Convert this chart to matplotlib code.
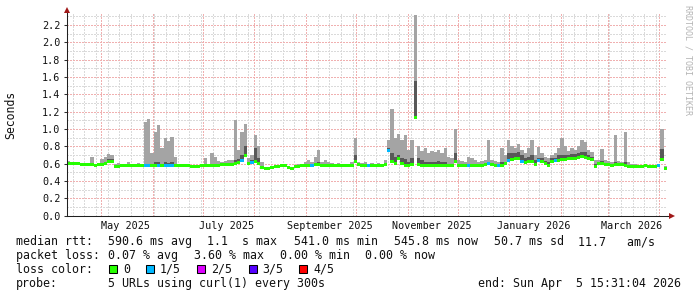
import numpy as np
import matplotlib
matplotlib.use("Agg")
import matplotlib.pyplot as plt
import matplotlib.dates as mdates
from matplotlib.ticker import MultipleLocator, FormatStrFormatter
from matplotlib.patches import Rectangle
from datetime import datetime, timedelta

# ---------------- data ----------------
start = datetime(2025, 4, 10, 15, 31, 4)
end = datetime(2026, 4, 5, 15, 31, 4)
bin_days = 2

median = [
    .605, .603, .600, .598, .595, .592, .588, .585, .583, .585,
    .590, .600, .620, .630, .565, .570, .575, .578, .578, .578,
    .578, .578, .578, .575, .575, .578, .578, .575, .578, .575,
    .575, .575, .578, .575, .575, .575, .575, .573, .573, .573,
    .575, .575, .575, .578, .580, .583, .585, .585, .590, .590,
    .600, .610, .640, .700, .600, .610, .620, .600, .560, .548,
    .547, .552, .568, .572, .575, .575, .555, .550, .565, .572,
    .578, .578, .578, .580, .585, .585, .580, .578, .578, .578,
    .578, .578, .578, .578, .578, .580, .630, .585, .580, .580,
    .580, .578, .578, .578, .578, .590, .750, .630, .600, .660,
    .600, .575, .580, .590, 1.130, .585, .580, .580, .580, .580,
    .580, .580, .580, .578, .578, .578, .630, .580, .578, .578,
    .580, .580, .580, .580, .580, .585, .600, .585, .580, .578,
    .580, .600, .640, .650, .655, .655, .625, .610, .620, .625,
    .585, .640, .620, .600, .580, .630, .635, .640, .645, .650,
    .655, .660, .665, .675, .680, .670, .660, .645, .565, .600,
    .600, .595, .585, .580, .585, .590, .585, .580, .570, .565,
    .568, .570, .570, .575, .570, .568, .568, .575, .650, .548,
]

smoke_high = [
    .630, .615, .610, .605, .600, .600, .598, .680, .600, .598,
    .650, .680, .710, .700, .600, .610, .590, .600, .620, .600,
    .600, .605, .600, 1.08, 1.12, .720, .960, 1.05, .780, .900,
    .860, .910, .680, .590, .590, .585, .590, .585, .590, .585,
    .600, .660, .600, .720, .680, .630, .620, .630, .640, .640,
    1.10, .760, .970, 1.06, .660, .700, .930, .800, .620, .555,
    .555, .560, .580, .585, .600, .595, .570, .560, .580, .600,
    .600, .620, .640, .620, .680, .760, .620, .640, .620, .610,
    .600, .610, .600, .600, .600, .620, .900, .620, .610, .620,
    .600, .610, .600, .605, .600, .640, .870, 1.23, .900, .940,
    .870, .930, .760, .870, 2.32, .800, .750, .780, .720, .750,
    .740, .760, .720, .780, .680, .660, 1.00, .640, .630, .620,
    .680, .660, .640, .620, .630, .640, .870, .640, .630, .620,
    .780, .700, .870, .800, .780, .830, .760, .720, .780, .870,
    .700, .790, .720, .680, .660, .700, .720, .780, .900, .800,
    .750, .780, .760, .800, .870, .850, .760, .740, .640, .640,
    .770, .640, .630, .620, .930, .630, .620, .960, .620, .600,
    .600, .590, .585, .590, .585, .580, .580, .600, 1.00, .570,
]

# top of the darker (inner) smoke band; 0 = no inner band visible
smoke_dark = [
    .61, 0, 0, 0, 0, 0, 0, .60, 0, 0,
    .60, .62, .65, .65, .57, 0, 0, 0, 0, 0,
    0, 0, 0, .59, .60, .60, .62, .62, .60, .62,
    .61, .62, .60, 0, 0, 0, 0, 0, 0, 0,
    0, 0, 0, .60, .60, 0, 0, 0, .60, .60,
    .64, .65, .70, .80, .62, .64, .78, .66, .57, 0,
    0, 0, 0, 0, 0, 0, 0, 0, 0, 0,
    0, 0, 0, 0, .60, .62, 0, 0, 0, 0,
    0, 0, 0, 0, 0, 0, .70, .60, 0, 0,
    0, 0, 0, 0, 0, .60, .78, .72, .68, .70,
    .66, .65, .62, .66, 1.55, .66, .64, .62, .62, .62,
    .62, .63, .62, .62, .60, .60, .72, .60, 0, 0,
    .60, .60, 0, 0, 0, 0, .62, 0, 0, 0,
    .62, .62, .72, .72, .72, .73, .70, .66, .68, .70,
    .64, .66, .66, .63, .62, .66, .67, .70, .70, .70,
    .70, .71, .71, .72, .74, .73, .70, .68, .60, .62,
    .63, .61, 0, 0, .62, .60, 0, .62, 0, 0,
    0, 0, 0, 0, 0, 0, 0, 0, .77, 0,
]

# lost pings (out of 5) per bin
loss = [
    0, 0, 0, 0, 0, 0, 0, 0, 0, 0,
    0, 0, 0, 0, 0, 0, 0, 0, 0, 0,
    0, 0, 0, 1, 1, 0, 0, 1, 0, 1,
    1, 1, 0, 0, 0, 0, 0, 0, 0, 0,
    0, 0, 0, 0, 0, 0, 0, 0, 0, 0,
    0, 0, 1, 0, 0, 1, 0, 0, 0, 0,
    0, 0, 0, 0, 0, 0, 0, 0, 0, 0,
    0, 0, 0, 1, 0, 0, 0, 0, 0, 0,
    0, 0, 0, 0, 0, 0, 0, 0, 0, 0,
    1, 0, 0, 0, 0, 0, 1, 0, 0, 0,
    0, 0, 0, 0, 0, 0, 0, 0, 0, 0,
    0, 0, 0, 0, 0, 0, 0, 0, 0, 0,
    1, 0, 0, 0, 0, 0, 1, 0, 0, 1,
    0, 0, 1, 0, 0, 0, 1, 0, 0, 0,
    0, 1, 0, 0, 0, 0, 1, 0, 0, 0,
    0, 0, 0, 0, 0, 0, 0, 0, 0, 0,
    0, 0, 0, 0, 0, 0, 0, 0, 0, 0,
    0, 0, 0, 0, 0, 0, 0, 1, 0, 0,
]

loss_colors = ["#26ff00", "#00b8ff", "#dd00ff", "#5500ff", "#ff0000"]
loss_names = ["0", "1/5", "2/5", "3/5", "4/5"]

month_labels = ["May 2025", "July 2025", "September 2025",
                "November 2025", "January 2026", "March 2026"]
month_label_dates = [datetime(2025, 5, 15, 12), datetime(2025, 7, 15, 12),
                     datetime(2025, 9, 15, 12), datetime(2025, 11, 15, 12),
                     datetime(2026, 1, 15, 12), datetime(2026, 3, 15, 12)]

y_top = 2.335

stats_rtt = [("median rtt:", 16), ("590.6 ms avg", 107.7), ("1.1  s max", 207.4),
             ("541.0 ms min", 293.7), ("545.8 ms now", 393.9),
             ("50.7 ms sd", 494.0), ("11.7   am/s", 578.5)]
stats_loss = [("packet loss:", 16), ("0.07 % avg", 107.7), ("3.60 % max", 193.6),
              ("0.00 % min", 279.5), ("0.00 % now", 365.0)]
probe_line = [("probe:", 16), ("5 URLs using curl(1) every 300s", 107.7),
              ("end: Sun Apr  5 15:31:04 2026", 478.4)]

# ---------------- drawing ----------------
W, H = 697, 297
MONO = "DejaVu Sans Mono"
fig = plt.figure(figsize=(W / 100, H / 100), dpi=100)
fig.patch.set_facecolor("white")
ax_left, ax_bottom_px, ax_w, ax_h = 67, 215.7, 600, 202.4
ax = fig.add_axes([ax_left / W, 1 - ax_bottom_px / H, ax_w / W, ax_h / H])
ax.set_facecolor("white")

n = len(median)
edges = [start + timedelta(days=bin_days * i) for i in range(n + 1)]
med = np.array(median)
hi = np.array(smoke_high)
dk = np.array(smoke_dark)
dk = np.where(dk > 0, dk, med)
ext = lambda a: np.append(a, a[-1])

ax.fill_between(edges, ext(med), ext(hi), step="post", color="#a4a4a4",
                linewidth=0, antialiased=False, zorder=2)
ax.fill_between(edges, ext(med), ext(dk), step="post", color="#585858",
                linewidth=0, antialiased=False, zorder=2.1)

half = 1.5 * y_top / ax_h   # median band: 3 px tall
cols = [loss_colors[l] for l in loss]
ax.bar(edges[:-1], 2 * half, bottom=med - half, width=bin_days, align="edge",
       color=cols, linewidth=0, antialiased=False, zorder=3)

ax.set_xlim(start, end)
ax.set_ylim(0, y_top)

ax.xaxis.set_major_locator(mdates.MonthLocator())
ax.xaxis.set_minor_locator(mdates.WeekdayLocator(byweekday=mdates.MO))
ax.yaxis.set_major_locator(MultipleLocator(0.2))
ax.yaxis.set_minor_locator(MultipleLocator(0.1))
ax.yaxis.set_major_formatter(FormatStrFormatter("%.1f"))

ax.set_axisbelow(True)
ax.grid(which="minor", color="#dadada", linestyle=(0, (1, 1)), linewidth=0.75,
        antialiased=False)
ax.grid(which="major", color="#f0b0b0", linestyle=(0, (1, 1)), linewidth=0.75,
        antialiased=False)

ax.tick_params(axis="x", which="both", length=0, labelbottom=False)
ax.tick_params(axis="y", which="major", length=2.5, width=0.75, color="#303030",
               pad=2.2, labelsize=7.25, labelcolor="#111111")
ax.tick_params(axis="y", which="minor", length=0)
for lab in ax.get_yticklabels():
    lab.set_fontfamily(MONO)

for s in ("top", "right"):
    ax.spines[s].set_visible(False)
for s in ("left", "bottom"):
    ax.spines[s].set_color("#202020")
    ax.spines[s].set_linewidth(0.75)
    ax.spines[s].set_zorder(4)

# axis arrows
arrow_c = "#a01818"
ax.plot([1, 1 + 4 / ax_w], [0, 0], transform=ax.transAxes, color="#202020",
        lw=0.75, clip_on=False, zorder=4)
ax.plot([1 + 5 / ax_w], [0], transform=ax.transAxes, marker=">", ms=4,
        color=arrow_c, clip_on=False, zorder=5, markeredgewidth=0)
ax.plot([0], [1 + 3 / ax_h], transform=ax.transAxes, marker="^", ms=4,
        color=arrow_c, clip_on=False, zorder=5, markeredgewidth=0)

# month labels
lab_y = -(229.0 - ax_bottom_px) / ax_h
for d, t in zip(month_label_dates, month_labels):
    ax.text(d, lab_y, t, transform=ax.get_xaxis_transform(), ha="center",
            va="baseline", fontsize=7.25, family=MONO, color="#111111")

# y label & watermark
fig.text(10.5 / W, 1 - 114.5 / H, "Seconds", rotation=90, ha="center",
         va="center", fontsize=8.3, family=MONO, color="#111111")
fig.text(688 / W, 1 - 60 / H, "RRDTOOL / TOBI OETIKER", rotation=-90,
         ha="center", va="center", fontsize=6.0, family=MONO, color="#b4b4b4")

# legend lines
def put(pieces, base):
    for t, x in pieces:
        fig.text(x / W, 1 - base / H, t, ha="left", va="baseline",
                 fontsize=8.37, family=MONO, color="#111111")

put(stats_rtt, 245.2)
put(stats_loss, 259.0)
put([("loss color:", 16)], 273.0)
put(probe_line, 287.0)

sw_x = [109, 146, 197, 249, 299]
lab_x = [123.3, 160.0, 211.4, 262.6, 313.7]
for c, name, sx, lx in zip(loss_colors, loss_names, sw_x, lab_x):
    fig.add_artist(Rectangle((sx / W, 1 - 273.3 / H), 7.5 / W, 8 / H,
                             transform=fig.transFigure, facecolor=c,
                             edgecolor="black", linewidth=0.75))
    fig.text(lx / W, 1 - 273.0 / H, name, ha="left", va="baseline",
             fontsize=8.37, family=MONO, color="#111111")

fig.savefig("out.png", dpi=100, facecolor="white")
